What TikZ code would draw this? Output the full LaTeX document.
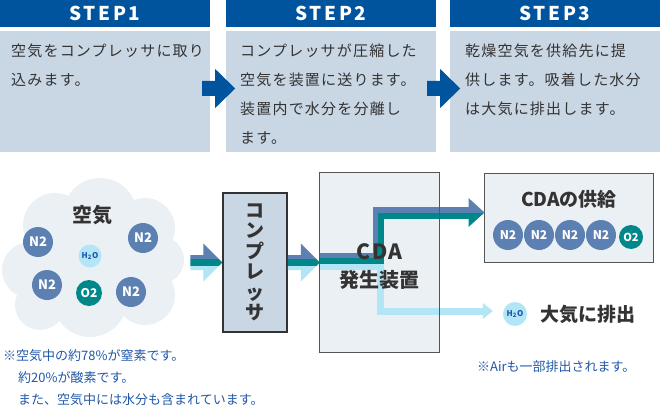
\documentclass[tikz,border=0pt]{standalone}
\usepackage{fontspec}
\setmainfont{Noto Sans CJK JP}
\newfontfamily\wideface{Noto Sans CJK JP}[LetterSpace=8]
\newfontfamily\headface{Noto Sans CJK JP}[LetterSpace=14]
\usetikzlibrary{calc}

\definecolor{stepblue}{HTML}{00539D}
\definecolor{stepgray}{HTML}{C9D6E4}
\definecolor{paleblue}{HTML}{EBF0F5}
\definecolor{ntwoblue}{HTML}{5B80B1}
\definecolor{otwoteal}{HTML}{00878A}
\definecolor{watercyan}{HTML}{B2E5F5}
\definecolor{noteblue}{HTML}{2158A8}
\definecolor{inkgray}{HTML}{333333}
\definecolor{edgegray}{HTML}{555555}

\tikzset{
  stephead/.style={fill=stepblue,text=white,minimum width=210pt,minimum height=27pt,inner sep=0pt,
    font=\headface\bfseries\fontsize{19}{19}\selectfont},
  stepbox/.style={fill=stepgray,minimum width=210pt,minimum height=121pt,inner sep=0pt},
  steptext/.style={anchor=north west,align=left,inner sep=0pt,text=inkgray,
    font=\wideface\fontsize{15}{29}\selectfont},
  mol/.style={circle,inner sep=0pt,text=white,font=\bfseries\fontsize{13}{13}\selectfont},
  ntwo/.style={mol,fill=ntwoblue,minimum size=30pt},
  otwo/.style={mol,fill=otwoteal,minimum size=26pt,font=\bfseries\fontsize{12}{12}\selectfont},
  water/.style={mol,fill=watercyan,minimum size=23pt,text=noteblue,font=\bfseries\fontsize{8}{8}\selectfont},
  bigword/.style={inner sep=0pt,text=inkgray,font=\bfseries\fontsize{19}{19}\selectfont},
  note/.style={anchor=west,inner sep=0pt,text=noteblue,font=\fontsize{13}{13}\selectfont},
}

% block arrow between the steps, #1 = left end of the shaft
\newcommand\steparrow[1]{%
  \fill[stepblue] #1 ++(0,-7.5) -- ++(13,0) -- ++(0,-12) -- ++(20,19.5)
    -- ++(-20,19.5) -- ++(0,-12) -- ++(-13,0) -- cycle;}
% three coloured bands in one arrow, #1 = tip
\newcommand\flowarrow[1]{%
  \begin{scope}
    \clip #1 -- ++(-19,-19) -- ++(0,11.5) -- ++(-13,0) -- ++(0,15) -- ++(13,0) -- ++(0,11.5) -- cycle;
    \fill[ntwoblue] #1 ++(-33,-20) rectangle ++(34,16.5);
    \fill[otwoteal] #1 ++(-33,-3.5) rectangle ++(34,7);
    \fill[watercyan] #1 ++(-33,3.5) rectangle ++(34,16.5);
  \end{scope}}

\begin{document}
\begin{tikzpicture}[x=1pt,y=-1pt]
\useasboundingbox (0,0) rectangle (660,406);
% ---------- steps ----------
\node[stephead] (head1) at (105,13.5) {STEP1};
\node[stepbox] (body1) at (105,91.5) {};
\node[steptext] (text1) at (11,43.5) {空気をコンプレッサに取り\\込みます。};
\node[stephead] (head2) at (331,13.5) {STEP2};
\node[stepbox] (body2) at (331,91.5) {};
\node[steptext] (text2) at (240,43.5) {コンプレッサが圧縮した\\空気を装置に送ります。\\装置内で水分を分離し\\ます。};
\node[stephead] (head3) at (555,13.5) {STEP3};
\node[stepbox] (body3) at (555,91.5) {};
\node[steptext] (text3) at (465,43.5) {乾燥空気を供給先に提\\供します。吸着した水分\\は大気に排出します。};
\steparrow{($(body1.east)+(-8,-3)$)}
\steparrow{($(body2.east)+(-9,-3)$)}

% ---------- air ----------
\fill[paleblue] (100,215) circle (37) (55,225) circle (32) (145,228) circle (30)
  (30,270) circle (28) (40,305) circle (25) (90,300) circle (37)
  (145,295) circle (30) (160,260) circle (24) (95,265) circle (55);
\node[bigword,font=\bfseries\fontsize{20}{20}\selectfont] (air) at (92,215) {空気};
\node[ntwo] (an1) at (38,242) {N2};
\node[ntwo] (an2) at (143,238) {N2};
\node[ntwo] (an3) at (47,285) {N2};
\node[ntwo] (an4) at (131,292) {N2};
\node[otwo] (ao) at (89,293) {O2};
\node[water] (aw) at (90,256) {H\textsubscript{2}O};

% ---------- compressor and CDA unit ----------
\node[fill=stepgray,draw=inkgray,line width=1.2pt,minimum width=64pt,minimum height=139pt,
  align=center,inner sep=0pt,text=inkgray,font=\bfseries\fontsize{19}{20.5}\selectfont]
  (comp) at (255,262.5) {コ\\ン\\プ\\レ\\ッ\\サ};
\node[fill=paleblue,minimum width=119pt,minimum height=179pt,inner sep=0pt] (cda) at (379.5,262.5) {};
\node[fill=paleblue,draw=edgegray,line width=1pt,minimum width=169pt,minimum height=89pt,inner sep=0pt]
  (supply) at (568.5,217.5) {};
\node[water,minimum size=24pt] (vent) at (515,314) {H\textsubscript{2}O};

\flowarrow{(comp.west)}
\flowarrow{(cda.west)}

% split inside the unit
\draw[watercyan,line width=7pt] (cda.west |- 0,266.5) -| (380.5,311) -- (484,311);
\draw[ntwoblue,line width=5.5pt] (cda.west |- 0,255.5) -| (375.5,210) -- (470,210);
\draw[otwoteal,line width=6pt] (cda.west |- 0,261) -| (381,216) -- (470,216);
\begin{scope}
  \clip ($(supply.west)+(1,-5)$) -- ++(-16,-14.5) -- ++(0,29) -- cycle;
  \fill[ntwoblue] ($(supply.west)+(-16,-25)$) rectangle ($(supply.west)+(2,-4.5)$);
  \fill[otwoteal] ($(supply.west)+(-16,-4.5)$) rectangle ($(supply.west)+(2,15)$);
\end{scope}
\fill[watercyan] ($(vent.west)+(-10,-3)$) -- ++(-10,-8) -- ++(0,16) -- cycle;
\draw[edgegray,line width=1pt] (cda.north west) rectangle (cda.south east);
\node[bigword,font=\wideface\bfseries\fontsize{21}{21}\selectfont] (cdaname) at (379.5,252) {CDA};
\node[bigword,font=\bfseries\fontsize{20}{20}\selectfont] (cdaunit) at (379.5,280) {発生装置};

% ---------- outputs ----------
\node[bigword] (supplytitle) at (569,199) {CDAの供給};
\foreach \i in {0,...,3}
  \node[ntwo,font=\bfseries\fontsize{12}{12}\selectfont] (sn\i) at (508+31*\i,235) {N2};
\node[otwo,minimum size=24pt,font=\bfseries\fontsize{11}{11}\selectfont] (so) at (631,237) {O2};
\node[bigword,anchor=west] (venttext) at (540,314) {大気に排出};

% ---------- notes ----------
\node[note] (note1) at (3,356) {※空気中の約78\%が窒素です。};
\node[note] (note2) at (18,378) {約20\%が酸素です。};
\node[note] (note3) at (18,400) {また、空気中には水分も含まれています。};
\node[note] (note4) at (477,367) {※Airも一部排出されます。};
\end{tikzpicture}
\end{document}
